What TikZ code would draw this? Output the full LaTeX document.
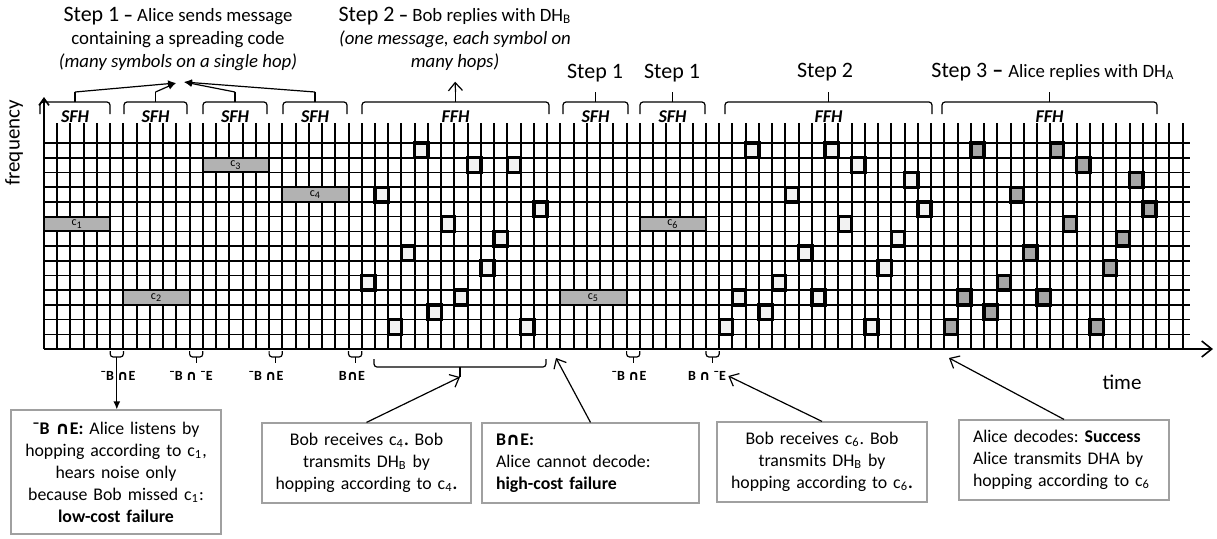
\documentclass[tikz,border=0pt]{standalone}
\usepackage{fontspec}
\setmainfont{Carlito}
\newfontfamily\capsym{DejaVu Sans}
\usetikzlibrary{arrows.meta}

\definecolor{hoplight}{HTML}{F2F2F2}
\definecolor{hopdark}{HTML}{A6A6A6}
\definecolor{blockgray}{HTML}{B2B2B2}
\definecolor{boxgray}{HTML}{A0A0A0}

\newcommand{\colx}[1]{44+13.24*(#1)}   % left edge of column
\newcommand{\rowy}[1]{349-14.71*(#1)}  % lower edge of row

\newcommand{\drawhop}[3]{% col, row, fill
	\draw[hop, fill=#3] ({\colx{#1}},{\rowy{#2}}) rectangle ({\colx{#1+1}},{\rowy{#2+1}});
}
\newcommand{\drawsfh}[4]{% col, row, name, label
	\draw[sfhblock] ({\colx{#1}},{\rowy{#2}}) rectangle ({\colx{#1+5}},{\rowy{#2+1}});
	\node[clabel] (#3) at ({\colx{#1+2.5}},{\rowy{#2+0.5}}) {#4};
}
\newcommand{\topbrace}[4]{% x1, x2, name, label
	\draw[brk] (#1,114) |- ({(#1+#2)/2},102) -| (#2,114);
	\draw[brk] ({(#1+#2)/2},102) -- ({(#1+#2)/2},92) coordinate (#3);
	\node[hoplbl] (#3t) at ({(#1+#2)/2},117) {#4};
}
\newcommand{\botbrace}[6]{% x1, x2, y ends, y bar, y tip, name
	\draw[brk] (#1,#3) |- ({(#1+#2)/2},#4) -| (#2,#3);
	\draw[brk] ({(#1+#2)/2},#4) -- ({(#1+#2)/2},#5) coordinate (#6);
}

\tikzset{
	vline/.style={line width=1pt},
	hline/.style={line width=0.75pt},
	hop/.style={line width=1.7pt},
	sfhblock/.style={fill=blockgray, line width=1pt},
	clabel/.style={font=\fontsize{6}{6}\selectfont, inner sep=0pt},
	brk/.style={line width=0.6pt, rounded corners=1.5pt},
	hoplbl/.style={font=\fontsize{9}{10}\selectfont\bfseries\itshape, inner sep=0pt},
	steptitle/.style={align=center, font=\fontsize{9.4}{11.5}\selectfont},
	steplbl/.style={font=\fontsize{11}{12}\selectfont},
	axislbl/.style={font=\fontsize{10.5}{12}\selectfont},
	bnlbl/.style={font=\fontsize{7}{8}\selectfont\bfseries, inner sep=1pt},
	infobox/.style={draw=boxgray, line width=0.6pt, fill=white, align=center,
		inner xsep=4pt, font=\fontsize{8.9}{11}\selectfont},
	opentip/.style={-{Straight Barb[length=4pt,width=7pt]}, line width=0.6pt},
	filltip/.style={-{Latex[length=4pt,width=3.5pt]}, line width=0.6pt},
}

\begin{document}
\frenchspacing
\hyphenpenalty=10000
\begin{tikzpicture}[x=0.5pt,y=-0.5pt]
\useasboundingbox (0,0) rectangle (1217,538);

% grid
\foreach \k in {1,...,86}
	\draw[vline] ({\colx{\k}},123) -- ({\colx{\k}},349);
\foreach \j in {1,...,14}
	\draw[hline] (44,{\rowy{\j}}) -- (1190,{\rowy{\j}});

% axes
\draw[line width=0.8pt, -{Straight Barb[length=5pt,width=8pt]}] (44,349) -- (1213,349);
\draw[line width=0.8pt, -{Straight Barb[length=3.5pt,width=5pt]}] (44,349) -- (44,97);
\node[axislbl, rotate=90] (freq) at (14,143) {frequency};
\node[axislbl] (time) at (1122,382) {time};

% slow hops
\drawsfh{0}{8}{c1}{c\textsubscript{1}}
\drawsfh{6}{3}{c2}{c\textsubscript{2}}
\drawsfh{12}{12}{c3}{c\textsubscript{3}}
\drawsfh{18}{10}{c4}{c\textsubscript{4}}
\drawsfh{39}{3}{c5}{c\textsubscript{5}}
\drawsfh{45}{8}{c6}{c\textsubscript{6}}

% fast hops
\foreach \c/\r in {24/4,25/10,26/1,27/6,28/13,29/2,30/8,31/3,32/12,33/5,34/7,35/12,36/1,37/9}
	\drawhop{\c}{\r}{hoplight};
\foreach \c/\r in {51/1,52/3,53/13,54/2,55/4,56/10,57/6,58/3,59/13,60/8,61/12,62/1,63/5,64/7,65/11,66/9}
	\drawhop{\c}{\r}{hoplight};
\foreach \c/\r in {68/1,69/3,70/13,71/2,72/4,73/10,74/6,75/3,76/13,77/8,78/12,79/1,80/5,81/7,82/11,83/9}
	\drawhop{\c}{\r}{hopdark};

% braces on top
\topbrace{40}{110}{b1}{SFH}
\topbrace{124}{187}{b2}{SFH}
\topbrace{203}{267}{b3}{SFH}
\topbrace{283}{347}{b4}{SFH}
\topbrace{362}{549}{bF1}{FFH}
\topbrace{563}{628}{bS1}{SFH}
\topbrace{640}{705}{bS2}{SFH}
\topbrace{725}{932}{bF2}{FFH}
\topbrace{942}{1157}{bF3}{FFH}

\node[steptitle] (step1txt) at (178,39) {{\fontsize{11}{11.5}\selectfont Step 1} \textbf{–} Alice sends message\\containing a spreading code\\\textit{(many symbols on a single hop)}};
\node[steptitle] (step2txt) at (455,39) {{\fontsize{11}{11.5}\selectfont Step 2} \textbf{–} Bob replies with DH\textsubscript{B}\\\textit{(one message, each symbol on}\\\textit{many hops)}};
\node[steplbl] (s1a) at (595,73) {Step 1};
\node[steplbl] (s1b) at (672,73) {Step 1};
\node[steplbl] (s2) at (825,72) {Step 2};
\node[steplbl] (s3) at (1053,72) {Step 3 \textbf{–} {\fontsize{9.4}{12}\selectfont Alice replies with DH\textsubscript{A}}};

\coordinate (meetL) at (176,83);
\coordinate (meetR) at (184,82);
\draw[filltip] (b1) -- (meetL);
\draw[filltip] (b2) -- (meetL);
\draw[filltip] (b3) -- (meetR);
\draw[filltip] (b4) -- (meetR);
\draw[opentip, shorten >=2pt] (bF1) -- (step2txt.south);

% braces below the time axis
\botbrace{110.2}{123.4}{351}{357}{363}{bb1}
\botbrace{189.6}{202.8}{351}{357}{363}{bb2}
\botbrace{269.1}{282.3}{351}{357}{363}{bb3}
\botbrace{348.5}{361.8}{351}{357}{363}{bb4}
\botbrace{626.6}{639.8}{351}{357}{363}{bb5}
\botbrace{706}{719.2}{351}{357}{363}{bb6}
\botbrace{374}{546}{359}{367}{377}{bbF}

\node[bnlbl] (l1) at (118,376) {¯B {\capsym ∩}E};
\node[bnlbl] (l2) at (191,376) {¯B {\capsym ∩} ¯E};
\node[bnlbl] (l3) at (266,376) {¯B {\capsym ∩}E};
\node[bnlbl] (l4) at (352,376) {B{\capsym ∩}E};
\node[bnlbl] (l5) at (629,376) {¯B {\capsym ∩}E};
\node[bnlbl] (l6) at (707,376) {B {\capsym ∩} ¯E};

% notes
\node[infobox, text width=97pt, minimum height=62pt] (box1) at (116,472)
	{\textbf{¯B {\capsym ∩}E:} Alice listens by\\hopping according to c\textsubscript{1},\\hears noise only\\because Bob missed c\textsubscript{1}:\\\textbf{low-cost failure}};
\node[infobox, text width=96.5pt, minimum height=40pt] (box2) at (366.5,463)
	{Bob receives c\textsubscript{4}\textbf{.} Bob\\transmits DH\textsubscript{B} by\\hopping according to c\textsubscript{4}\textbf{.}};
\node[infobox, align=left, inner xsep=7pt, text width=94.5pt, minimum height=40pt] (box3) at (590.5,463)
	{\textbf{B{\capsym ∩}E:}\\Alice cannot decode:\\\textbf{high-cost failure}};
\node[infobox, text width=97pt, minimum height=40pt] (box4) at (822,462)
	{Bob receives c\textsubscript{6}. Bob\\transmits DH\textsubscript{B} by\\hopping according to c\textsubscript{6}\textbf{.}};
\node[infobox, align=left, inner xsep=7pt, text width=91pt, minimum height=40pt] (box5) at (1064,460)
	{Alice decodes: \textbf{Success}\\Alice transmits DHA by\\hopping according to c\textsubscript{6}};

\coordinate (fail) at (556,358);
\coordinate (succ) at (949,358);
\draw[filltip] (bb1) -- (bb1 |- box1.north);
\draw[opentip] (box2.north) -- (bbF);
\draw[opentip] (box3.north) -- (fail);
\draw[opentip] (box4.north) -- (l6.east);
\draw[opentip] (box5.north) -- (succ);
\end{tikzpicture}
\end{document}
